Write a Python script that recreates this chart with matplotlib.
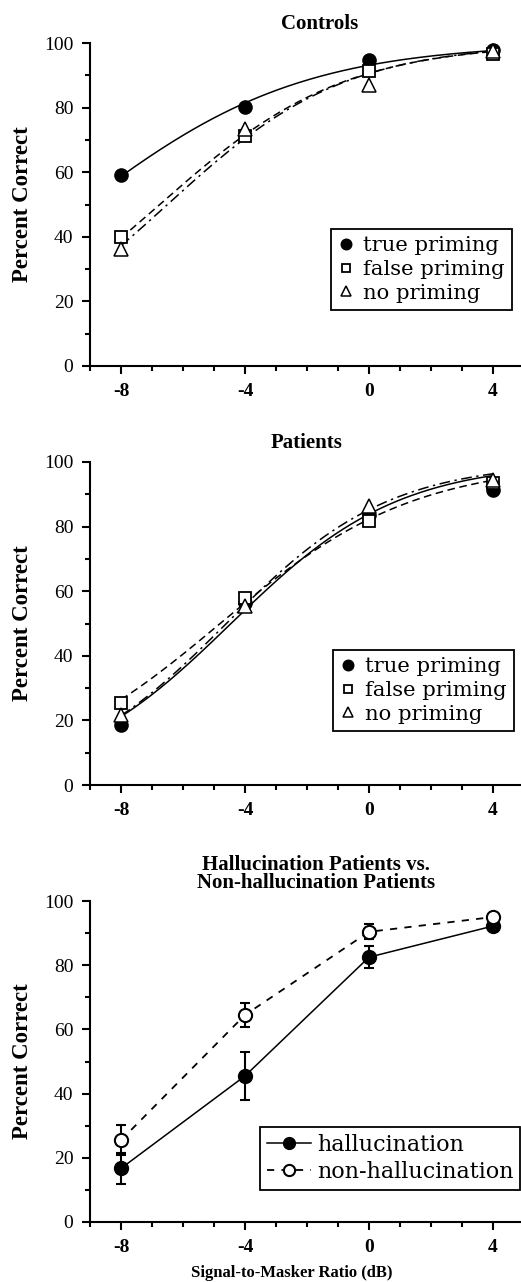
import matplotlib
matplotlib.use("Agg")
import matplotlib.pyplot as plt
from matplotlib.ticker import MultipleLocator
import numpy as np

plt.rcParams["axes.unicode_minus"] = False

# ── Data ───────────────────────────────────────────────────
SMR = [-8, -4, 0, 4]

CTRL_TRUE = [59.0, 80.3, 94.6, 97.8]
CTRL_FALSE = [39.8, 71.2, 91.3, 96.6]
CTRL_NONE = [36.1, 73.5, 87.0, 97.4]

PAT_TRUE = [18.6, 56.5, 83.6, 91.3]
PAT_FALSE = [25.5, 57.8, 81.8, 93.4]
PAT_NONE = [21.7, 55.4, 86.5, 94.4]

HALL = [16.7, 45.5, 82.5, 92.2]
HALL_ERR = [4.9, 7.6, 3.5, 1.0]
NONHALL = [25.5, 64.5, 90.4, 95.0]
NONHALL_ERR = [4.7, 3.6, 2.3, 1.0]

PRIMING_LABELS = ["true priming", "false priming", "no priming"]
GROUP_LABELS = ["hallucination", "non-hallucination"]

SERIF = "Liberation Serif"
LEG_FONT = "DejaVu Serif"


def fit_logistic(x, y):
    """Least-squares psychometric (logistic) fit, grid search."""
    x = np.asarray(x, float)
    y = np.asarray(y, float)
    ms = np.linspace(-16, 6, 441)
    ss = np.linspace(0.5, 10, 381)
    M, S = np.meshgrid(ms, ss)
    pred = 100.0 / (1.0 + np.exp(-(x[:, None, None] - M) / S))
    err = ((pred - y[:, None, None]) ** 2).sum(axis=0)
    i = np.unravel_index(err.argmin(), err.shape)
    return M[i], S[i]


def style_axes(ax):
    ax.set_xlim(-9, 5)
    ax.set_ylim(0, 100)
    ax.spines["top"].set_visible(False)
    ax.spines["right"].set_visible(False)
    ax.spines["left"].set_linewidth(1.5)
    ax.spines["bottom"].set_linewidth(1.5)
    ax.xaxis.set_major_locator(MultipleLocator(4))
    ax.xaxis.set_minor_locator(MultipleLocator(1))
    ax.yaxis.set_major_locator(MultipleLocator(20))
    ax.yaxis.set_minor_locator(MultipleLocator(10))
    ax.set_xticks(SMR)
    ax.tick_params(axis="both", which="major", direction="out", length=6, width=1.5)
    ax.tick_params(axis="both", which="minor", direction="out", length=3.5, width=1.5)
    ax.tick_params(axis="x", pad=6)
    ax.tick_params(axis="y", pad=6)
    for t in ax.get_xticklabels():
        t.set_fontfamily(SERIF)
        t.set_fontsize(14)
        t.set_fontweight("bold")
    for t in ax.get_yticklabels():
        t.set_fontfamily(SERIF)
        t.set_fontsize(14)
    ax.set_ylabel("Percent Correct", fontfamily=SERIF, fontsize=16.5, fontweight="bold")
    ax.yaxis.set_label_coords(-0.131, 0.5)


fig = plt.figure(figsize=(5.21, 12.82), dpi=100)
fig.patch.set_facecolor("white")

W = 434 / 521
ax1 = fig.add_axes([90 / 521, 1 - 366 / 1282, W, 323 / 1282])
ax2 = fig.add_axes([90 / 521, 1 - 785 / 1282, W, 323 / 1282])
ax3 = fig.add_axes([90 / 521, 1 - 1222 / 1282, W, 321 / 1282])

xs = np.linspace(SMR[0], SMR[-1], 200)
styles = ["-", (0, (5, 3)), (0, (7, 3, 1.5, 3))]
markers = [
    dict(marker="o", ms=9.5, mfc="black", mec="black"),
    dict(marker="s", ms=8, mfc="white", mec="black", mew=1.3),
    dict(marker="^", ms=9.5, mfc="white", mec="black", mew=1.1),
]

for ax, series, title, tx, leg_anchor in [
    (ax1, [CTRL_TRUE, CTRL_FALSE, CTRL_NONE], "Controls", 0.528, (0.555, 0.424)),
    (ax2, [PAT_TRUE, PAT_FALSE, PAT_NONE], "Patients", 0.498, (0.56, 0.418)),
]:
    handles = []
    for vals, ls, mk, lab in zip(series, styles, markers, PRIMING_LABELS):
        m, s = fit_logistic(SMR, vals)
        ax.plot(xs, 100.0 / (1.0 + np.exp(-(xs - m) / s)), color="black",
                lw=1.1, ls=ls, zorder=2, clip_on=False)
        h, = ax.plot(SMR, vals, ls="none", zorder=3, clip_on=False, **mk)
        handles.append(h)
    style_axes(ax)
    ax.set_title(title, x=tx, pad=10, fontfamily=SERIF, fontsize=15, fontweight="bold")
    leg = ax.legend(handles, PRIMING_LABELS, loc="upper left", bbox_to_anchor=leg_anchor,
                    borderaxespad=0, fancybox=False, framealpha=1, edgecolor="black",
                    prop={"family": LEG_FONT, "size": 15.2}, handlelength=0.7,
                    handletextpad=0.45, labelspacing=0.22, borderpad=0.35,
                    markerscale=0.8)
    leg.get_frame().set_linewidth(1.3)

# ── Panel 3: hallucination vs non-hallucination ────────────
h1 = ax3.errorbar(SMR, HALL, yerr=HALL_ERR, color="black", lw=1.1, ls="-",
                  marker="o", ms=10, mfc="black", mec="black",
                  elinewidth=1.5, capsize=3.5, capthick=1.5, zorder=3, clip_on=False)
h2 = ax3.errorbar(SMR, NONHALL, yerr=NONHALL_ERR, color="black", lw=1.3, ls=(0, (4, 4)),
                  marker="o", ms=9.5, mfc="white", mec="black", mew=1.5,
                  elinewidth=1.5, capsize=3.5, capthick=1.5, zorder=3, clip_on=False)
style_axes(ax3)
ax3.set_title("Hallucination Patients vs.\nNon-hallucination Patients", x=0.52, pad=9,
              fontfamily=SERIF, fontsize=15, fontweight="bold", linespacing=0.9)
ax3.set_xlabel("Signal-to-Masker Ratio (dB)", fontfamily=SERIF, fontsize=12,
               fontweight="bold")
ax3.xaxis.set_label_coords(0.466, -0.135)
leg3 = ax3.legend([h1.lines[0], h2.lines[0]], GROUP_LABELS, loc="upper left",
                  bbox_to_anchor=(0.392, 0.296), borderaxespad=0, fancybox=False,
                  framealpha=1, edgecolor="black", prop={"family": LEG_FONT, "size": 16},
                  handlelength=2.0, handletextpad=0.25, labelspacing=0.25, borderpad=0.3,
                  markerscale=0.85)
leg3.get_frame().set_linewidth(1.3)

fig.savefig("out.png", dpi=100, facecolor="white")
plt.close(fig)
